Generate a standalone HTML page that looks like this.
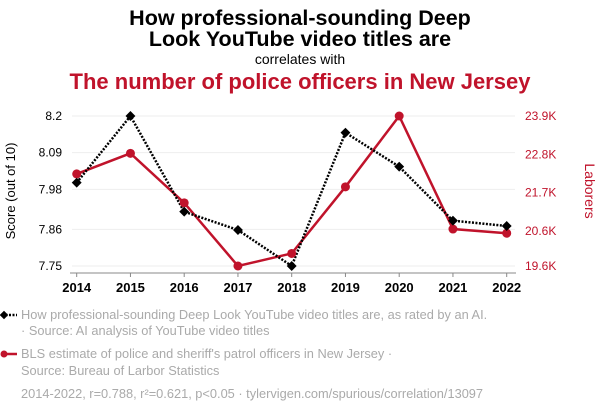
<!DOCTYPE html>
<html><head><meta charset="utf-8"><style>
body{margin:0;background:#fff;width:600px;height:414px;overflow:hidden;font-family:"Liberation Sans",sans-serif}
</style></head><body>
<svg id="c" width="600" height="414" xmlns="http://www.w3.org/2000/svg">
<text x="300" y="25" text-anchor="middle" font-size="21.5" font-weight="bold" fill="#000">How professional-sounding Deep</text>
<text x="300" y="46" text-anchor="middle" font-size="21.5" font-weight="bold" fill="#000">Look YouTube video titles are</text>
<text x="300" y="64" text-anchor="middle" font-size="14" fill="#000">correlates with</text>
<text x="300" y="89" text-anchor="middle" font-size="22" font-weight="bold" fill="#c0132b">The number of police officers in New Jersey</text>
<text transform="translate(15,191) rotate(-90)" text-anchor="middle" font-size="13" fill="#000">Score (out of 10)</text>
<text transform="translate(585,191) rotate(90)" text-anchor="middle" font-size="14" fill="#c0132b">Laborers</text>
<g id="grid"></g><g id="axes"></g><g id="series"></g>
<g font-size="12.8" fill="#aaa">
<line x1="2" y1="315" x2="17" y2="315" stroke="#000" stroke-width="2.5" stroke-dasharray="2,1.5"/>
<rect x="1" y="312" width="6" height="6" transform="rotate(45 4 315)" fill="#000"/>
<text x="21" y="319">How professional-sounding Deep Look YouTube video titles are, as rated by an AI.</text>
<text x="21" y="335">· Source: AI analysis of YouTube video titles</text>
<line x1="2" y1="354" x2="17" y2="354" stroke="#c0132b" stroke-width="2.5"/>
<circle cx="4" cy="354" r="3.5" fill="#c0132b"/>
<text x="21" y="358">BLS estimate of police and sheriff's patrol officers in New Jersey ·</text>
<text x="21" y="375">Source: Bureau of Larbor Statistics</text>
<text x="21" y="398">2014-2022, r=0.788, r²=0.621, p&lt;0.05 · tylervigen.com/spurious/correlation/13097</text>
</g>
</svg>
<script>
const years=[2014,2015,2016,2017,2018,2019,2020,2021,2022];
const scores=[8.0,8.2,7.913,7.858,7.75,8.15,8.048,7.886,7.87];
const officers=[22.24,22.83,21.41,19.6,19.96,21.87,23.9,20.66,20.54];
const leftTicks=[8.2,8.09,7.98,7.86,7.75];
const rightTicks=[23.9,22.8,21.7,20.6,19.6];
const NS="http://www.w3.org/2000/svg";
const x=i=>76.7+i*53.75;
const yL=v=>116+(8.2-v)/0.45*150;
const yR=v=>116+(23.9-v)/4.3*150;
function mk(t,a,p){const e=document.createElementNS(NS,t);for(const k in a)e.setAttribute(k,a[k]);p.appendChild(e);return e;}
const grid=document.getElementById('grid'),axes=document.getElementById('axes'),ser=document.getElementById('series');
leftTicks.forEach((v,i)=>{
 const l=mk('line',{x1:72,x2:515,y1:yL(v),y2:yL(v),stroke:'#eee','stroke-width':1},grid);
 
 
 const t=mk('text',{x:62,y:yL(v)+4,'text-anchor':'end','font-size':12,fill:'#000'},axes);t.textContent=v;
 
 
});
rightTicks.forEach(v=>{
 const t=mk('text',{x:525,y:yR(v)+4,'font-size':12,fill:'#c0132b'},axes);t.textContent=v+'K';
 
 
});
mk('line',{x1:70,x2:516,y1:273,y2:273,stroke:'#888','stroke-width':1},axes);
years.forEach((yv,i)=>{
 mk('line',{x1:x(i),x2:x(i),y1:273,y2:277,stroke:'#888'},axes);
 const t=mk('text',{x:x(i),y:292,'text-anchor':'middle','font-size':13,'font-weight':'bold',fill:'#000'},axes);t.textContent=yv;
 
 
});
const rp=mk('polyline',{points:officers.map((v,i)=>x(i)+','+yR(v)).join(' '),fill:'none',stroke:'#c0132b','stroke-width':2.5},ser);


const bp=mk('polyline',{points:scores.map((v,i)=>x(i)+','+yL(v)).join(' '),fill:'none',stroke:'#000','stroke-width':2.5,'stroke-dasharray':'2,1.5'},ser);


officers.forEach((v,i)=>{const c=mk('circle',{cx:x(i),cy:yR(v),r:4.5,fill:'#c0132b'},ser);
 
 });
scores.forEach((v,i)=>{const r=mk('rect',{x:x(i)-3.5,y:yL(v)-3.5,width:7,height:7,fill:'#000',transform:`rotate(45 ${x(i)} ${yL(v)})`},ser);
 
 });
</script>
</body></html>
